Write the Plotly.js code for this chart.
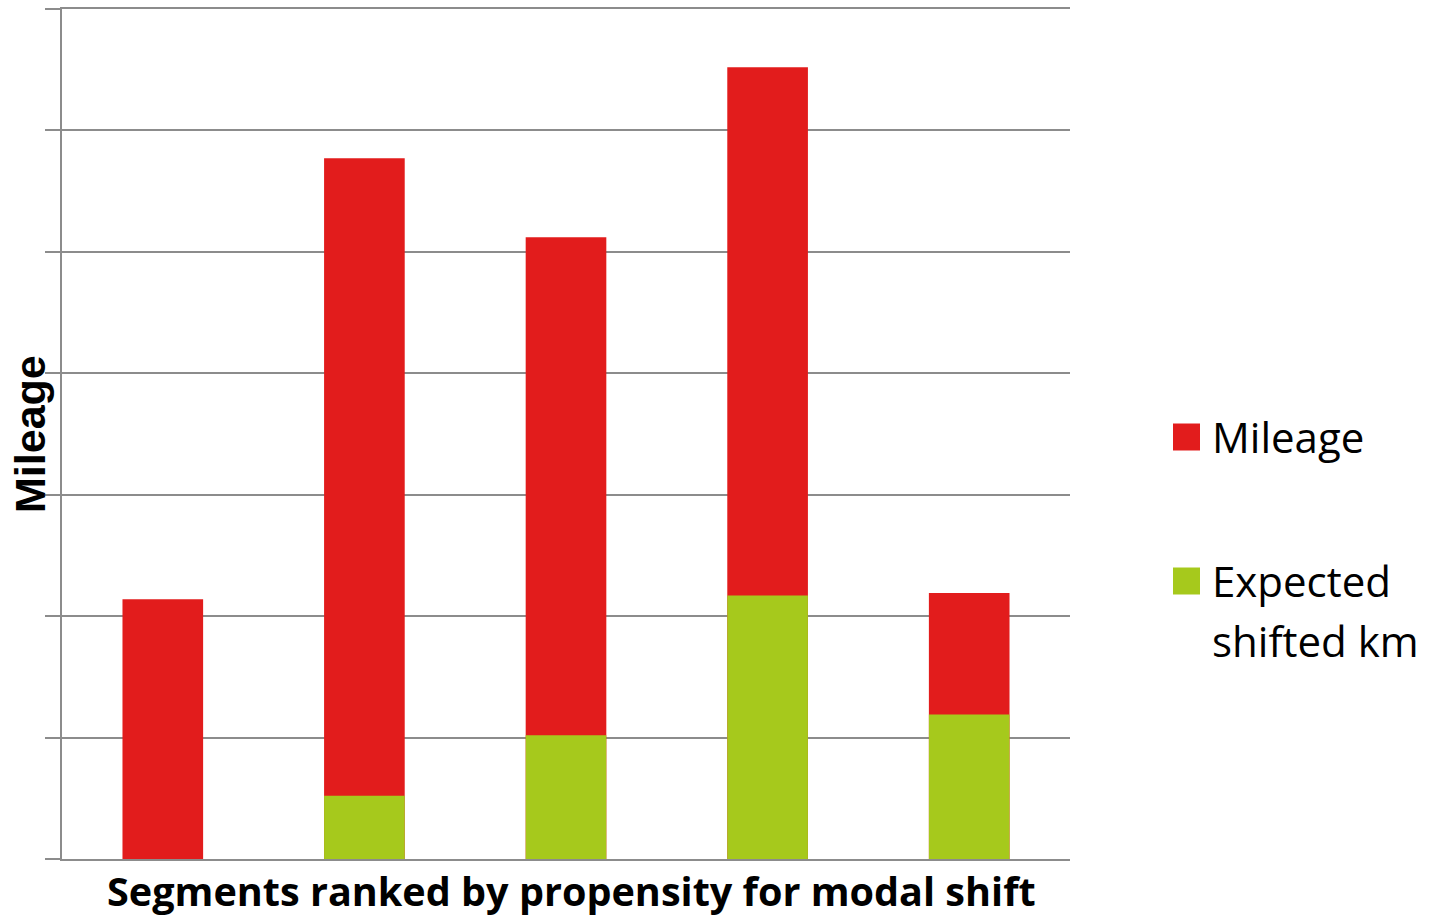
<!DOCTYPE html>
<html>
<head>
<meta charset="utf-8">
<script src="https://cdn.plot.ly/plotly-3.0.1.min.js"></script>
<style>
  html, body { margin: 0; padding: 0; background: #ffffff; }
  #chart { width: 1433px; height: 918px; }
</style>
</head>
<body>
<div id="chart"></div>
<script>
// Segments, ordered by propensity for modal shift
const segments = ['Segment 1', 'Segment 2', 'Segment 3', 'Segment 4', 'Segment 5'];
// Total mileage per segment
const mileage = [2.14, 5.77, 5.12, 6.52, 2.19];
// Expected shifted km per segment
const shiftedKm = [0, 0.52, 1.02, 2.17, 1.19];

const seriesNames = ['Mileage', 'Expected shifted km'];
const seriesColors = ['#e21c1c', '#a6c91c'];

const gridGrey = '#8c8c8c';

const traces = [
  {
    type: 'bar', x: segments, y: mileage, name: seriesNames[0],
    marker: { color: seriesColors[0], line: { width: 0 } },
    hoverinfo: 'y'
  },
  {
    type: 'bar', x: segments, y: shiftedKm, name: seriesNames[1],
    marker: { color: seriesColors[1], line: { width: 0 } },
    hoverinfo: 'y'
  }
];

// Pixel helpers for the plot frame (left 62, right 1070, top 9, bottom 859)
const px = v => (v - 62) / 1008;
const py = v => (859 - v) / 850;

// Legend: coloured squares with labels to the right of the plot
const legendRows = [
  { y: 437, lines: [{ text: 'Mileage', y: 436 }] },
  { y: 581, lines: [{ text: 'Expected', y: 581 }, { text: 'shifted km', y: 640 }] }
];
const shapes = [];
const annotations = [];
legendRows.forEach((row, i) => {
  shapes.push({
    type: 'rect', xref: 'paper', yref: 'paper',
    x0: px(1173), x1: px(1200), y0: py(row.y + 13.5), y1: py(row.y - 13.5),
    fillcolor: seriesColors[i], line: { width: 0 }
  });
  row.lines.forEach(line => {
    annotations.push({
      xref: 'paper', yref: 'paper', x: px(1210), y: py(line.y),
      xanchor: 'left', yanchor: 'middle', align: 'left',
      showarrow: false, text: line.text,
      font: { family: 'Open Sans', size: 42, color: '#000000' }
    });
  });
});

// Vertical axis title
annotations.push({
  xref: 'paper', yref: 'paper', x: px(30), y: py(434),
  xanchor: 'center', yanchor: 'middle', textangle: -90,
  showarrow: false, text: '<b>Mileage</b>',
  font: { family: 'Liberation Sans', size: 43, color: '#000000' }
});

// Horizontal axis title
annotations.push({
  xref: 'paper', yref: 'paper', x: px(571), y: py(891),
  xanchor: 'center', yanchor: 'middle',
  showarrow: false, text: '<b>Segments ranked by propensity for modal shift</b>',
  font: { family: 'Open Sans', size: 39.6, color: '#000000' }
});

const layout = {
  width: 1433, height: 918,
  margin: { l: 62, r: 363, t: 9, b: 59 },
  paper_bgcolor: '#ffffff', plot_bgcolor: '#ffffff',
  barmode: 'overlay',
  bargap: 0.6,
  showlegend: false,
  xaxis: {
    type: 'category',
    showticklabels: false, ticks: '',
    showgrid: false, zeroline: false,
    showline: true, mirror: true, linecolor: gridGrey, linewidth: 2,
    automargin: false
  },
  yaxis: {
    range: [0, 7], dtick: 1, tick0: 0,
    showticklabels: false,
    ticks: 'outside', ticklen: 15, tickcolor: gridGrey, tickwidth: 2,
    showgrid: true, gridcolor: gridGrey, gridwidth: 2,
    zeroline: false,
    showline: true, linecolor: gridGrey, linewidth: 2,
    automargin: false
  },
  shapes: shapes,
  annotations: annotations
};

Plotly.newPlot('chart', traces, layout, { displayModeBar: false, staticPlot: true });
</script>
</body>
</html>
